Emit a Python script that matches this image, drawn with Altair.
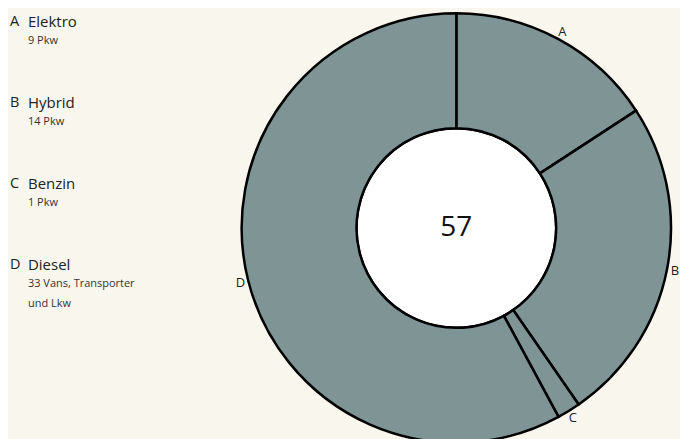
import altair as alt
import pandas as pd

letters = ["A", "B", "C", "D"]
names = ["Elektro", "Hybrid", "Benzin", "Diesel"]
details = ["9 Pkw", "14 Pkw", "1 Pkw", "33 Vans, Transporter\nund Lkw"]
counts = [9, 14, 1, 33]

df = pd.DataFrame({"letter": letters, "name": names, "detail": details,
                   "count": counts, "idx": list(range(len(letters)))})

BG = "#f9f6ee"
FILL = "#7e9495"
FONT = "Open Sans"

# Legend panel
ybase = alt.Y("letter:N", axis=None, sort=letters,
              scale=alt.Scale(type="point", range=[10, 253], padding=0))
leg = alt.Chart(df)
leg_letter = leg.mark_text(align="left", baseline="middle", fontSize=14.5,
                           font=FONT, color="#222222").encode(
    y=ybase, x=alt.value(2), text="letter:N")
leg_name = leg.mark_text(align="left", baseline="middle", fontSize=15,
                         font=FONT, color="#222222").encode(
    y=ybase, x=alt.value(20), text="name:N")
leg_detail = leg.mark_text(align="left", baseline="top", fontSize=11,
                           font=FONT, color="#333333", dy=13, lineBreak="\n",
                           lineHeight=20).encode(
    y=ybase, x=alt.value(20), text="detail:N")
legend = alt.layer(leg_letter, leg_name, leg_detail).properties(width=226, height=432)

# Donut panel
base = alt.Chart(df).encode(
    theta=alt.Theta("count:Q", stack=True),
    order=alt.Order("idx:Q"),
)
disk = alt.Chart(df).mark_arc(radius=100, fill="white", stroke="black",
                              strokeWidth=2.5).encode(
    theta=alt.Theta("sum(count):Q"))
arcs = base.mark_arc(outerRadius=215, innerRadius=100, fill=FILL,
                     stroke="black", strokeWidth=2.5)
labels = base.mark_text(radius=223, fontSize=13, font=FONT,
                        color="#222222").encode(text="letter:N")
center = alt.Chart(df).mark_text(fontSize=28, font=FONT, color="#111111",
                                 baseline="middle").encode(
    text=alt.Text("sum(count):Q"))
donut = alt.layer(disk, arcs, labels, center).properties(width=446, height=432)

chart = alt.hconcat(legend, donut, spacing=0).properties(
    background=BG, padding=0
).configure_view(stroke=None)

chart.save("out.html", embed_options={"renderer": "svg", "actions": False})
